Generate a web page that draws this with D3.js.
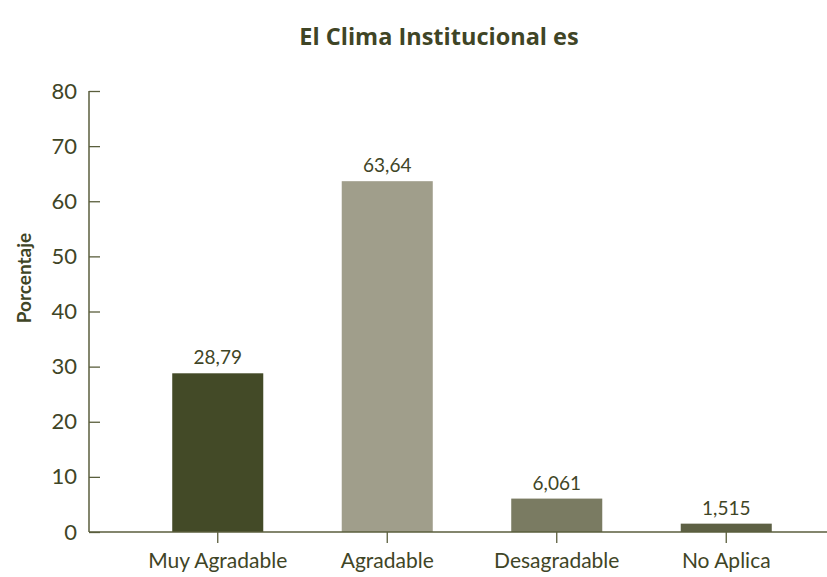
<!DOCTYPE html>
<html>
<head>
<meta charset="utf-8">
<script src="https://cdn.jsdelivr.net/npm/d3@7"></script>
<style>
  body { margin: 0; background: #fff; }
  text { font-family: Lato, "Open Sans", sans-serif; fill: #3f4526; }
</style>
</head>
<body>
<svg id="chart"></svg>
<script>
const categories = ["Muy Agradable", "Agradable", "Desagradable", "No Aplica"];
const values = [28.79, 63.64, 6.061, 1.515];
const valueLabels = ["28,79", "63,64", "6,061", "1,515"];
const barColors = ["#434a27", "#a09e8b", "#7a7b62", "#5d6044"];
const yTicks = [0, 10, 20, 30, 40, 50, 60, 70, 80];

const width = 827, height = 577;
const axisColor = "#5a5e3c";
const svg = d3.select("#chart").attr("width", width).attr("height", height);

const y = d3.scaleLinear().domain([0, 80]).range([532, 91]);
const x = d3.scaleBand().domain(categories).range([133, 811])
    .paddingInner(0.463).paddingOuter(0.2315);

// title
svg.append("text")
    .attr("x", 439).attr("y", 45)
    .attr("text-anchor", "middle")
    .style("font-family", "'Open Sans', sans-serif")
    .style("font-size", "23.5px").style("font-weight", "bold")
    .text("El Clima Institucional es");

// y axis label
svg.append("text")
    .attr("transform", "translate(31,278) rotate(-90)")
    .attr("text-anchor", "middle")
    .style("font-size", "19px").style("font-weight", "bold")
    .text("Porcentaje");

// bars
svg.append("g").selectAll("rect")
    .data(categories)
    .join("rect")
    .attr("x", d => x(d))
    .attr("y", (d, i) => y(values[i]))
    .attr("width", x.bandwidth())
    .attr("height", (d, i) => y(0) - y(values[i]))
    .attr("fill", (d, i) => barColors[i]);

// value labels
svg.append("g").selectAll("text")
    .data(categories)
    .join("text")
    .attr("x", d => x(d) + x.bandwidth() / 2)
    .attr("y", (d, i) => y(values[i]) - 9)
    .attr("text-anchor", "middle")
    .style("font-size", "19px")
    .text((d, i) => valueLabels[i]);

// y axis (ticks pointing inward)
const yAxis = svg.append("g").attr("transform", "translate(89,0)")
    .call(d3.axisRight(y).tickValues(yTicks).tickSize(11).tickFormat(d3.format("d")));
yAxis.select(".domain").remove();
yAxis.selectAll("line").attr("stroke", axisColor).attr("stroke-width", 1.3);
yAxis.selectAll("text")
    .attr("x", -12).attr("text-anchor", "end")
    .style("font-size", "22px");
svg.append("line")
    .attr("x1", 89).attr("x2", 89).attr("y1", y(80)).attr("y2", y(0))
    .attr("stroke", axisColor).attr("stroke-width", 1.5);

// x axis
const xAxis = svg.append("g").attr("transform", `translate(0,${y(0)})`)
    .call(d3.axisBottom(x).tickSize(11).tickSizeOuter(0));
xAxis.select(".domain").remove();
xAxis.selectAll("line").attr("stroke", axisColor).attr("stroke-width", 1.3);
xAxis.selectAll("text")
    .attr("y", 21)
    .style("font-size", "21px");
svg.append("line")
    .attr("x1", 89).attr("x2", 827).attr("y1", y(0)).attr("y2", y(0))
    .attr("stroke", axisColor).attr("stroke-width", 1.5);
</script>
</body>
</html>
